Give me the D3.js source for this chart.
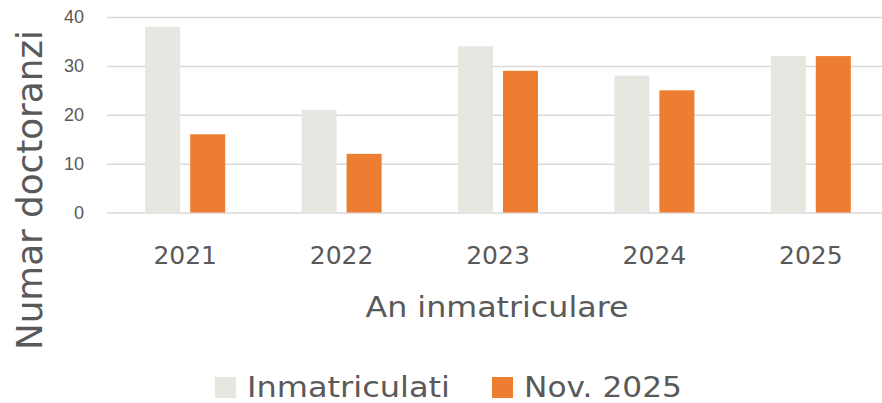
<!DOCTYPE html>
<html>
<head>
<meta charset="utf-8" />
<title>Numar doctoranzi</title>
<script src="https://d3js.org/d3.v7.min.js"></script>
<style>
  body { margin: 0; background: #fff; }
  text { fill: #595959; }
</style>
</head>
<body>
<svg></svg>
<script>
// data
const years = ['2021', '2022', '2023', '2024', '2025']
const seriesNames = ['Inmatriculati', 'Nov. 2025']
const inmatriculati = [38, 21, 34, 28, 32]
const nov2025 = [16, 12, 29, 25, 32]
const yTicks = [0, 10, 20, 30, 40]
const colors = ['#e8e6e0', '#ed7d31']

const W = 882, H = 403
const font = 'DejaVu Sans, sans-serif'
const svg = d3.select('svg').attr('width', W).attr('height', H)

const x = d3.scaleBand().domain(years).range([107, 889])
const inner = d3.scaleBand().domain(seriesNames).range([0, 80]).paddingInner(0.222)
const y = d3.scaleLinear().domain([0, 40]).range([212.5, 17])

// gridlines
svg.append('g')
  .attr('transform', 'translate(107,0)')
  .call(d3.axisLeft(y).tickValues(yTicks).tickSize(-(W - 107)).tickFormat(''))
  .call(g => g.select('.domain').remove())
  .call(g => g.selectAll('line').attr('stroke', '#d9d9d9').attr('stroke-width', 1.5))

// y tick labels
svg.append('g')
  .attr('transform', 'translate(84,0)')
  .call(d3.axisLeft(y).tickValues(yTicks).tickSize(0).tickPadding(0))
  .call(g => g.select('.domain').remove())
  .call(g => g.selectAll('text')
    .attr('font-family', 'Liberation Sans, Arial, sans-serif')
    .attr('font-size', 18).style('fill', '#595959'))

const series = [inmatriculati, nov2025]
const groups = svg.selectAll('g.series')
  .data(series)
  .enter().append('g')
  .attr('class', 'series')
  .attr('fill', (d, i) => colors[i])

groups.selectAll('rect')
  .data((d, si) => d.map((v, i) => ({ v, year: years[i], s: seriesNames[si] })))
  .enter().append('rect')
  .attr('x', d => x(d.year) + x.bandwidth() / 2 - 40 + inner(d.s))
  .attr('width', inner.bandwidth())
  .attr('y', d => y(d.v))
  .attr('height', d => y(0) - y(d.v))

// x labels
svg.append('g')
  .attr('transform', 'translate(0,264)')
  .call(d3.axisBottom(x).tickSize(0).tickPadding(0))
  .call(g => g.select('.domain').remove())
  .call(g => g.selectAll('text')
    .attr('font-family', font)
    .attr('font-size', 25).attr('dy', 0).style('fill', '#595959'))

// axis titles
svg.append('text')
  .attr('x', 497).attr('y', 317)
  .attr('text-anchor', 'middle')
  .attr('font-family', font)
  .attr('font-size', 29)
  .attr('textLength', 263).attr('lengthAdjust', 'spacingAndGlyphs')
  .text('An inmatriculare')

svg.append('text')
  .attr('transform', 'translate(42,190) rotate(-90)')
  .attr('text-anchor', 'middle')
  .attr('font-family', font)
  .attr('font-size', 36)
  .attr('textLength', 320).attr('lengthAdjust', 'spacingAndGlyphs')
  .text('Numar doctoranzi')

// legend
const legX = [215, 492]
const legLen = [203, 158]
const leg = svg.selectAll('g.leg')
  .data(seriesNames)
  .enter().append('g')
  .attr('class', 'leg')
  .attr('transform', (d, i) => `translate(${legX[i]},377)`)
leg.append('rect').attr('width', 21).attr('height', 21).attr('fill', (d, i) => colors[i])
leg.append('text')
  .attr('x', 32).attr('y', 20)
  .attr('font-family', font)
  .attr('font-size', 28)
  .attr('textLength', (d, i) => legLen[i]).attr('lengthAdjust', 'spacingAndGlyphs')
  .text(d => d)
</script>
</body>
</html>
